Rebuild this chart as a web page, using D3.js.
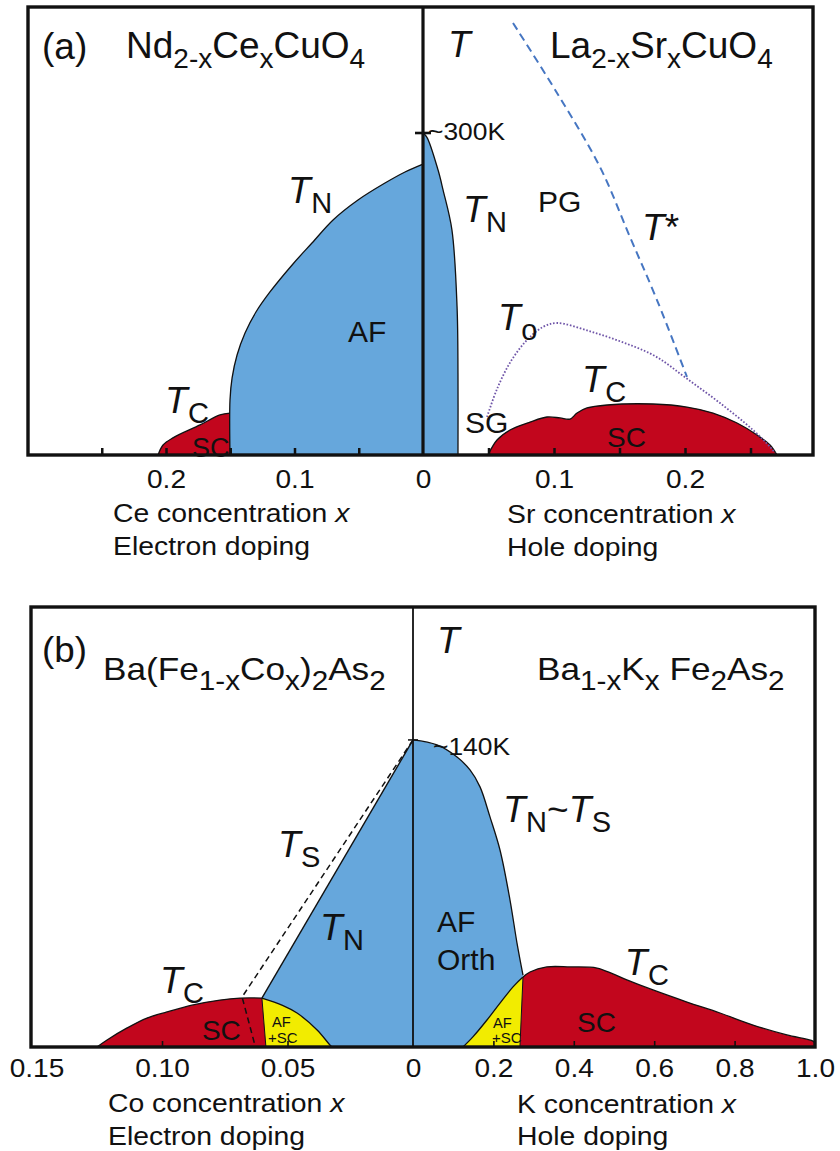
<!DOCTYPE html>
<html>
<head>
<meta charset="utf-8">
<script src="https://cdn.jsdelivr.net/npm/d3@7"></script>
<style>
  html, body { margin: 0; padding: 0; background: #fff; }
  svg { display: block; }
  text { font-family: "Liberation Sans", Arial, Helvetica, sans-serif; fill: #111; }
</style>
</head>
<body>
<svg id="chart" width="840" height="1151"></svg>
<script>
// ---------------- (a) cuprates: x = dopant concentration, T in kelvin ----------------
// electron-doped side, Nd2-xCexCuO4
const ncoAFEdge = [[0.1502,0],[0.1502,51.2],[0.1486,71.7],[0.1447,93.2],[0.1385,113.7],[0.1300,133.2],
  [0.1191,151.9],[0.1012,178.0],[0.0864,197.5],[0.0700,219.0],[0.0506,237.6],[0.0296,253.4],[0.0140,263.7],[0,271.1]];
const ncoSCEdge = [[0.2062,0],[0.2023,9.3],[0.1946,16],[0.1735,28],[0.158,37.3],[0.1502,39.1]];
// hole-doped side, La2-xSrxCuO4
const lscoAFEdge = [[0,300],[0.003,296],[0.0115,265.5],[0.0153,247],[0.0221,209.6],[0.026,138],[0.0267,76],[0.0267,0]];
const lscoSCEdge = [[0.0496,0],[0.0565,14],[0.0664,23.3],[0.0817,30.7],[0.0947,35.4],[0.1046,34.5],[0.1122,33.5],
  [0.1176,39.1],[0.1252,43.8],[0.1405,46.6],[0.1756,47.5],[0.2015,44.7],[0.2214,39.1],[0.2397,29.8],
  [0.2550,18.6],[0.2649,9.3],[0.2702,0]];
const lscoTo = [[0.0489,35.4],[0.0565,61.5],[0.0672,87.6],[0.0794,107.1],[0.0916,119.3],[0.1023,123],
  [0.1267,115.5],[0.1519,105.3],[0.1771,92.2],[0.2008,71.7],[0.2267,48.4],[0.2519,23.3],[0.2649,7.5],[0.2687,1.9]];
const lscoTstar = [[0.0687,402.5],[0.1023,337.3],[0.1351,268.3],[0.158,203.1],[0.1786,144.4],[0.2015,72.7]];
const cuprateTmax = 300;

// ---------------- (b) iron pnictides ----------------
// electron-doped side, Ba(Fe1-xCox)2As2
const bfcaTN = [[0,140],[0.0602,22.3]];
const bfcaTS = [[0,140],[0.0681,22.8],[0.0629,0.5]];
const bfcaMixEdge = [[0.0602,22.3],[0.052,19],[0.0462,15.5],[0.0382,7.75],[0.0331,0.9],[0.0323,0]];
const bfcaSCEdge = [[0.1259,0],[0.1219,3.2],[0.1139,8.7],[0.1060,13.2],[0.0980,16],[0.0876,19.2],
  [0.0769,21.4],[0.0689,22.3],[0.0602,22.3]];
const bfcaSplit = [[0.0602,22.3],[0.0586,0]];
// hole-doped side, Ba1-xKxFe2As2
const bkfaAFEdge = [[0,140],[0.0597,137.7],[0.1095,132.2],[0.1418,126.3],[0.1667,118.6],[0.1915,104.9],
  [0.2164,89.8],[0.2413,67],[0.2587,47.4],[0.2736,32.8]];
const bkfaMixEdge = [[0.1244,0],[0.149,4.6],[0.184,12.3],[0.2164,20],[0.2488,27.4],[0.2736,31.9]];
const bkfaSCEdge = [[0.2736,31.9],[0.291,34.2],[0.333,36.5],[0.3905,36.5],[0.4577,36],[0.4975,33.3],
  [0.532,30.6],[0.597,26],[0.6816,20.5],[0.7637,15.5],[0.8458,10],[0.930,5.5],[0.995,2.7],[1.0,1.8]];
const bkfaSplit = [[0.2736,31.9],[0.266,0]];
const pnictideTmax = 140;

// ---------------- axes ----------------
const aTicks = [0.05, 0.1, 0.15, 0.2, 0.25];
const aLabelsElec = [0.2, 0.1, 0];
const aLabelsHole = [0.1, 0.2];
const bTicksCo = [0.05, 0.10];
const bLabelsCo = [0.15, 0.10, 0.05, 0];
const bTicksK = [0.2, 0.4, 0.6, 0.8];
const bLabelsK = [0.2, 0.4, 0.6, 0.8, 1.0];

// ---------------- colours ----------------
const C_AF = "#66a7dc", C_SC = "#c2061d", C_MIX = "#f2ec00";

// ---------------- layout ----------------
const A = { left: 28, right: 813, top: 7, bottom: 455, mid: 423 };
const B = { left: 31, right: 815, top: 607, bottom: 1047, mid: 413 };

const xElec = d3.scaleLinear().domain([0, 0.3074]).range([A.mid, A.left]);
const xHole = d3.scaleLinear().domain([0, 0.2977]).range([A.mid, A.right]);
const yA = d3.scaleLinear().domain([0, 417.4]).range([A.bottom, A.top]);
const xCo = d3.scaleLinear().domain([0, 0.1522]).range([B.mid, B.left]);
const xK = d3.scaleLinear().domain([0, 1]).range([B.mid, B.right]);
const yB = d3.scaleLinear().domain([0, 200.6]).range([B.bottom, B.top]);

const svg = d3.select("#chart");
const smooth = d3.line().curve(d3.curveCatmullRom.alpha(0.5));
const straight = d3.line();

const proj = (pts, sx, sy) => pts.map(p => [sx(p[0]), sy(p[1])]);
function region(edge, closing, sx, sy, gen) {
  return (gen || smooth)(proj(edge, sx, sy)) +
    closing.map(p => `L${sx(p[0])},${sy(p[1])}`).join("") + "Z";
}
function fill(g, d, color) { g.append("path").attr("d", d).attr("fill", color).attr("stroke", "none"); }
function edge(g, pts, sx, sy, opts = {}) {
  g.append("path").attr("d", (opts.gen || smooth)(proj(pts, sx, sy)))
    .attr("fill", "none").attr("stroke", opts.color || "#111")
    .attr("stroke-width", opts.width || 1.3)
    .attr("stroke-dasharray", opts.dash || null)
    .attr("stroke-linecap", opts.cap || "butt");
}

// rich text: parts are [string, kind] with kind n (normal), i (italic), s (subscript)
function rich(g, x, y, parts, st) {
  const t = g.append("text")
    .attr("transform", `translate(${x},${y}) scale(${st.sx || 1},1)`)
    .attr("font-size", st.size);
  let down = false;
  parts.forEach(([str, kind]) => {
    const sp = t.append("tspan").text(str);
    if (kind === "s") {
      sp.attr("font-size", st.sub).attr("dy", down ? 0 : st.shift);
      if (st.subDx != null) sp.attr("dx", st.subDx);
      down = true;
    } else {
      if (down) sp.attr("dy", -st.shift);
      down = false;
      if (kind === "i") sp.attr("font-style", "italic");
    }
  });
  return t;
}

const S = {
  title:  { size: 37, sub: 28, shift: 10, sx: 1.0 },
  titleB: { size: 32, sub: 27, shift: 10, sx: 1.1 },
  tlab:   { size: 37, sub: 29, shift: 10, sx: 1.0, subDx: 0.5 },
  region: { size: 30, sx: 1.0 },
  small:  { size: 14, sx: 1.05 },
  note:   { size: 24, sx: 1.1 },
  axis:   { size: 26.5, sx: 1.07 },
  tick:   { size: 25.5, sx: 1.1 }
};

// ================= panel (a) =================
const ga = svg.append("g");
fill(ga, region(ncoAFEdge, [[0, 0]], xElec, yA), C_AF);
fill(ga, region(ncoSCEdge, [[0.1502, 0]], xElec, yA), C_SC);
fill(ga, region(lscoAFEdge, [[0, 0]], xHole, yA), C_AF);
fill(ga, region(lscoSCEdge, [], xHole, yA), C_SC);
edge(ga, ncoAFEdge, xElec, yA);
edge(ga, ncoSCEdge, xElec, yA);
edge(ga, lscoAFEdge, xHole, yA);
edge(ga, lscoSCEdge, xHole, yA);
edge(ga, lscoTo, xHole, yA, { color: "#6f55a8", width: 1.8, dash: "1.6 1.8" });
edge(ga, lscoTstar, xHole, yA, { color: "#4676c2", width: 2, dash: "8 5" });

// centre line, frame and the ~300 K mark
ga.append("line").attr("x1", A.mid).attr("x2", A.mid).attr("y1", A.top).attr("y2", A.bottom)
  .attr("stroke", "#111").attr("stroke-width", 3.2);
ga.append("line").attr("x1", A.mid - 8).attr("x2", A.mid + 8)
  .attr("y1", yA(cuprateTmax)).attr("y2", yA(cuprateTmax))
  .attr("stroke", "#111").attr("stroke-width", 2.6);
ga.append("rect").attr("x", A.left).attr("y", A.top).attr("width", A.right - A.left)
  .attr("height", A.bottom - A.top).attr("fill", "none").attr("stroke", "#111").attr("stroke-width", 3.4);

function ticks(g, scale, vals, y0, len, w) {
  const ax = g.append("g").attr("transform", `translate(0,${y0})`)
    .call(d3.axisBottom(scale).tickValues(vals).tickSize(-len).tickFormat(""));
  ax.select(".domain").remove();
  ax.selectAll("line").attr("stroke", "#111").attr("stroke-width", w);
}
function labels(g, scale, vals, y0, pad, fmt) {
  const ax = g.append("g").attr("transform", `translate(0,${y0})`)
    .call(d3.axisBottom(scale).tickValues(vals).tickSize(0).tickPadding(pad).tickFormat(fmt));
  ax.select(".domain").remove();
  ax.selectAll("text").attr("font-size", S.tick.size)
    .attr("transform", `scale(${S.tick.sx},1)`)
    .attr("font-family", '"Liberation Sans", Arial, Helvetica, sans-serif').attr("fill", "#111");
}
const fmtA = d => d === 0 ? "0" : d3.format(".1f")(d);
ticks(ga, xElec, aTicks, A.bottom, 7, 2.5);
ticks(ga, xHole, aTicks, A.bottom, 7, 2.5);
labels(ga, xElec, aLabelsElec, A.bottom, 14.5, fmtA);
labels(ga, xHole, aLabelsHole, A.bottom, 14.5, fmtA);

// titles and annotations
rich(ga, 42, 59, [["(a)", "n"]], S.title);
rich(ga, 126, 58, [["Nd","n"],["2-x","s"],["Ce","n"],["x","s"],["CuO","n"],["4","s"]], S.title);
rich(ga, 448, 57, [["T", "i"]], S.title);
rich(ga, 550, 58, [["La","n"],["2-x","s"],["Sr","n"],["x","s"],["CuO","n"],["4","s"]], S.title);
rich(ga, xHole(0.0038), yA(293.5), [["~300K", "n"]], S.note);
rich(ga, xElec(0.105), yA(234.8), [["T","i"],["N","s"]], S.tlab);
rich(ga, xHole(0.0305), yA(217), [["T","i"],["N","s"]], S.tlab);
rich(ga, xHole(0.0878), yA(226.4), [["PG","n"]], S.region);
rich(ga, xHole(0.1672), yA(200.3), [["T","i"],["*","n"]], S.tlab);
rich(ga, xElec(0.0584), yA(105.3), [["AF","n"]], S.region);
rich(ga, xHole(0.0573), yA(116.5), [["T","i"],["o","s"]], S.tlab);
rich(ga, xHole(0.1214), yA(58.7), [["T","i"],["C","s"]], S.tlab);
rich(ga, xElec(0.2008), yA(39.1), [["T","i"],["C","s"]], S.tlab);
rich(ga, xHole(0.0321), yA(20.5), [["SG","n"]], S.region);
rich(ga, xHole(0.1405), yA(7.5), [["SC","n"]], { size: 28, sx: 1.0 });
rich(ga, xElec(0.1798), yA(-1.5), [["SC","n"]], { size: 27, sx: 1.0 });
rich(ga, 113, 522, [["Ce concentration ","n"],["x","i"]], S.axis);
rich(ga, 113, 555, [["Electron doping","n"]], S.axis);
rich(ga, 507, 523, [["Sr concentration ","n"],["x","i"]], S.axis);
rich(ga, 507, 556, [["Hole doping","n"]], S.axis);

// ================= panel (b) =================
const gb = svg.append("g");
fill(gb, region(bfcaTN, [[0.0586, 0], [0, 0]], xCo, yB, straight), C_AF);
fill(gb, region(bfcaMixEdge, [[0.0586, 0]], xCo, yB), C_MIX);
fill(gb, region(bfcaSCEdge, [[0.0586, 0]], xCo, yB), C_SC);
fill(gb, region(bkfaAFEdge, [[0.266, 0], [0, 0]], xK, yB), C_AF);
fill(gb, region(bkfaMixEdge, [[0.266, 0]], xK, yB), C_MIX);
fill(gb, region(bkfaSCEdge, [[1, 0], [0.266, 0]], xK, yB), C_SC);
edge(gb, bfcaTN, xCo, yB, { gen: straight, width: 1.4 });
edge(gb, bfcaMixEdge, xCo, yB);
edge(gb, bfcaSCEdge, xCo, yB);
edge(gb, bfcaSplit, xCo, yB, { gen: straight, width: 1 });
edge(gb, bfcaTS, xCo, yB, { gen: straight, width: 1.5, dash: "6 4" });
edge(gb, bkfaAFEdge, xK, yB);
edge(gb, bkfaMixEdge, xK, yB);
edge(gb, bkfaSCEdge, xK, yB);
edge(gb, bkfaSplit, xK, yB, { gen: straight, width: 1 });

gb.append("line").attr("x1", B.mid).attr("x2", B.mid).attr("y1", B.top).attr("y2", B.bottom)
  .attr("stroke", "#111").attr("stroke-width", 1.8);
gb.append("line").attr("x1", B.mid - 5).attr("x2", B.mid + 5)
  .attr("y1", yB(pnictideTmax)).attr("y2", yB(pnictideTmax))
  .attr("stroke", "#111").attr("stroke-width", 1.5);
gb.append("rect").attr("x", B.left).attr("y", B.top).attr("width", B.right - B.left)
  .attr("height", B.bottom - B.top).attr("fill", "none").attr("stroke", "#111").attr("stroke-width", 3.4);

ticks(gb, xCo, bTicksCo, B.bottom, 6, 1.6);
ticks(gb, xK, bTicksK, B.bottom, 6, 1.6);
labels(gb, xCo, bLabelsCo, B.bottom, 11.5, d => d === 0 ? "0" : d3.format(".2f")(d));
labels(gb, xK, bLabelsK, B.bottom, 11.5, d => d3.format(".1f")(d));

rich(gb, 42, 662, [["(b)", "n"]], { size: 35, sx: 1.05 });
rich(gb, 103, 680, [["Ba(Fe","n"],["1-x","s"],["Co","n"],["x","s"],[")","n"],["2","s"],["As","n"],["2","s"]], S.titleB);
rich(gb, 437, 653, [["T", "i"]], S.title);
rich(gb, 537, 680, [["Ba","n"],["1-x","s"],["K","n"],["x","s"],[" Fe","n"],["2","s"],["As","n"],["2","s"]], S.titleB);
rich(gb, xK(0.0498), yB(133.1), [["~140K", "n"]], S.note);
rich(gb, xK(0.2239), yB(102.6), [["T","i"],["N","s"],["~","n"],["T","i"],["S","s"]], S.tlab);
rich(gb, xCo(0.0538), yB(86.6), [["T","i"],["S","s"]], S.tlab);
rich(gb, xCo(0.0371), yB(48.8), [["T","i"],["N","s"]], S.tlab);
rich(gb, xK(0.0597), yB(52.4), [["AF","n"]], S.region);
rich(gb, xK(0.0597), yB(35.1), [["Orth","n"]], S.region);
rich(gb, xK(0.527), yB(32.8), [["T","i"],["C","s"]], S.tlab);
rich(gb, xCo(0.1008), yB(24.6), [["T","i"],["C","s"]], S.tlab);
rich(gb, xCo(0.0841), yB(3.2), [["SC","n"]], { size: 28, sx: 1.0 });
rich(gb, xK(0.408), yB(6.8), [["SC","n"]], { size: 28, sx: 1.0 });
rich(gb, xCo(0.0562), yB(9.1), [["AF","n"]], S.small);
rich(gb, xCo(0.0578), yB(1.8), [["+SC","n"]], { size: 15, sx: 1.0 });
rich(gb, xK(0.199), yB(8.7), [["AF","n"]], S.small);
rich(gb, xK(0.1965), yB(1.8), [["+SC","n"]], { size: 15, sx: 1.0 });
rich(gb, 108, 1112, [["Co concentration ","n"],["x","i"]], S.axis);
rich(gb, 108, 1145, [["Electron doping","n"]], S.axis);
rich(gb, 517, 1113, [["K concentration ","n"],["x","i"]], S.axis);
rich(gb, 517, 1145, [["Hole doping","n"]], S.axis);
</script>
</body>
</html>
